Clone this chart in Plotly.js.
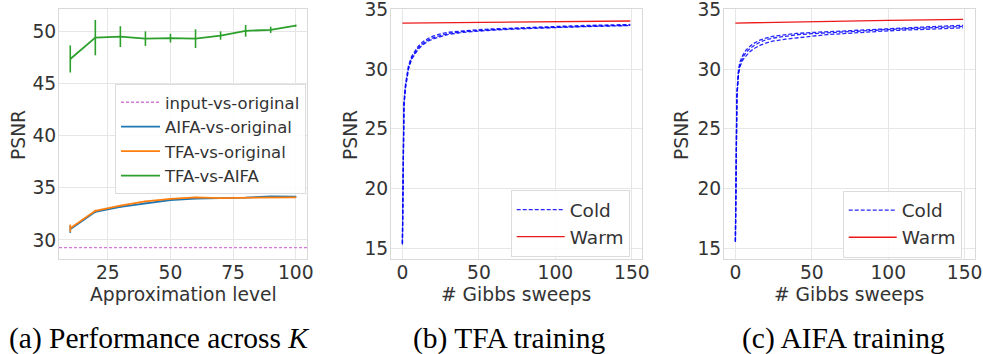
<!DOCTYPE html>
<html>
<head>
<meta charset="utf-8">
<script src="https://cdn.plot.ly/plotly-3.0.1.min.js"></script>
<style>
  html, body { margin: 0; padding: 0; background: #fff; }
  #chart { width: 983px; height: 354px; }
</style>
</head>
<body>
<div id="chart"></div>
<script>
// ---------- Panel (a): performance across K ----------
const approxLevels = [10, 20, 30, 40, 50, 60, 70, 80, 90, 100];
const tfaVsAifa    = [47.4, 49.45, 49.55, 49.35, 49.4, 49.35, 49.65, 50.1, 50.2, 50.6];
const tfaVsAifaErr = [1.3, 1.7, 1.0, 0.7, 0.42, 0.9, 0.4, 0.56, 0.3, 0.1];
const aifaVsOrig    = [31.03, 32.71, 33.19, 33.55, 33.84, 33.97, 34.0, 34.06, 34.19, 34.16];
const aifaVsOrigErr = [0.35, 0.1, 0.08, 0.06, 0.05, 0.05, 0.04, 0.04, 0.04, 0.04];
const tfaVsOrig     = [31.13, 32.8, 33.29, 33.71, 33.94, 34.1, 34.03, 34.06, 34.1, 34.1];
const tfaVsOrigErr  = [0.35, 0.1, 0.08, 0.06, 0.05, 0.05, 0.04, 0.04, 0.04, 0.04];
const inputVsOrig   = 29.26;

// ---------- Panel (b): TFA training ----------
const sweepsB = [0, 1, 2, 3, 4, 6, 8, 10, 13, 17, 20, 25, 30, 40, 50, 60, 70, 80, 90, 100, 110, 120, 130, 140, 149];
const coldB1 = [15.3, 27.0, 28.5, 29.5, 30.1, 30.9, 31.35, 31.7, 32.1, 32.45, 32.62, 32.83, 32.98, 33.15, 33.24, 33.31, 33.37, 33.42, 33.47, 33.51, 33.55, 33.58, 33.61, 33.64, 33.66];
const coldB2 = [15.4, 27.2, 28.7, 29.7, 30.3, 31.05, 31.5, 31.85, 32.25, 32.58, 32.75, 32.95, 33.08, 33.22, 33.3, 33.37, 33.43, 33.48, 33.53, 33.57, 33.61, 33.65, 33.68, 33.71, 33.73];
const coldB3 = [15.35, 26.8, 28.4, 29.4, 30.0, 30.8, 31.25, 31.6, 32.0, 32.35, 32.52, 32.74, 32.9, 33.08, 33.19, 33.27, 33.33, 33.39, 33.44, 33.48, 33.52, 33.56, 33.59, 33.62, 33.64];
const warmSweepsB = [0, 25, 50, 75, 100, 125, 149];
const warmB = [33.85, 33.87, 33.9, 33.93, 33.96, 33.99, 34.02];

// ---------- Panel (c): AIFA training ----------
const sweepsC = [0, 1, 2, 3, 5, 7, 9, 12, 16, 20, 25, 33, 40, 50, 60, 70, 80, 90, 100, 110, 120, 130, 140, 149];
const coldC1 = [15.5, 28.0, 29.9, 30.6, 31.2, 31.6, 31.85, 32.15, 32.42, 32.6, 32.75, 32.9, 32.98, 33.06, 33.13, 33.19, 33.25, 33.31, 33.38, 33.44, 33.5, 33.56, 33.62, 33.66];
const coldC2 = [15.55, 27.8, 29.7, 30.4, 31.0, 31.4, 31.65, 31.95, 32.25, 32.45, 32.6, 32.77, 32.87, 32.96, 33.04, 33.11, 33.17, 33.24, 33.31, 33.37, 33.43, 33.48, 33.53, 33.57];
const coldC3 = [15.6, 27.6, 29.5, 30.2, 30.8, 31.15, 31.4, 31.7, 31.98, 32.18, 32.35, 32.5, 32.62, 32.75, 32.88, 32.97, 33.05, 33.13, 33.2, 33.26, 33.31, 33.36, 33.41, 33.45];
const warmSweepsC = [0, 25, 50, 75, 100, 125, 149];
const warmC = [33.85, 33.92, 33.98, 34.03, 34.08, 34.12, 34.16];

// ---------- tick labels, titles & captions ----------
const ticksAx = [25, 50, 75, 100];
const ticksAy = [30, 35, 40, 45, 50];
const ticksSweeps = [0, 50, 100, 150];
const ticksPsnr = [15, 20, 25, 30, 35];
const xTitles = ['Approximation level', '# Gibbs sweeps', '# Gibbs sweeps'];
const yTitle = 'PSNR';
const captions = ['(a) Performance across <i>K</i>', '(b) TFA training', '(c) AIFA training'];

// ---------- styles ----------
const TXT = '#333333';
const GRID = '#e6e6e6';
const FRAME = '#d9d9d9';
const FONT = 'DejaVu Sans, sans-serif';
const FS = 18.7;
const C_BLUE = '#1f77b4', C_ORANGE = '#ff7f0e', C_GREEN = '#2ca02c', C_MAG = '#d27ad6';
const C_COLD = 'rgba(0,0,255,0.85)', C_WARM = 'rgba(235,0,0,0.9)';

function errY(arr, color) {
  return {type: 'data', array: arr, visible: true, color: color, thickness: 1.6, width: 0};
}

const traces = [
  {x: [null], y: [null], mode: 'lines', name: 'input-vs-original',
   line: {color: C_MAG, width: 1.3, dash: '3px,2px'}, xaxis: 'x', yaxis: 'y', legend: 'legend'},
  {x: approxLevels, y: aifaVsOrig, error_y: errY(aifaVsOrigErr, C_BLUE), mode: 'lines', name: 'AIFA-vs-original',
   line: {color: C_BLUE, width: 1.8}, xaxis: 'x', yaxis: 'y', legend: 'legend'},
  {x: approxLevels, y: tfaVsOrig, error_y: errY(tfaVsOrigErr, C_ORANGE), mode: 'lines', name: 'TFA-vs-original',
   line: {color: C_ORANGE, width: 1.8}, xaxis: 'x', yaxis: 'y', legend: 'legend'},
  {x: approxLevels, y: tfaVsAifa, error_y: errY(tfaVsAifaErr, C_GREEN), mode: 'lines', name: 'TFA-vs-AIFA',
   line: {color: C_GREEN, width: 1.8}, xaxis: 'x', yaxis: 'y', legend: 'legend'},

  {x: sweepsB, y: coldB1, mode: 'lines', name: 'Cold', legendgroup: 'coldB',
   line: {color: C_COLD, width: 1.3, dash: '4px,2px'}, xaxis: 'x2', yaxis: 'y2', legend: 'legend2'},
  {x: sweepsB, y: coldB2, mode: 'lines', name: 'Cold', legendgroup: 'coldB', showlegend: false,
   line: {color: C_COLD, width: 1.3, dash: '4px,2px'}, xaxis: 'x2', yaxis: 'y2', legend: 'legend2'},
  {x: sweepsB, y: coldB3, mode: 'lines', name: 'Cold', legendgroup: 'coldB', showlegend: false,
   line: {color: C_COLD, width: 1.3, dash: '4px,2px'}, xaxis: 'x2', yaxis: 'y2', legend: 'legend2'},
  {x: warmSweepsB, y: warmB, mode: 'lines', name: 'Warm',
   line: {color: C_WARM, width: 1.4}, xaxis: 'x2', yaxis: 'y2', legend: 'legend2'},

  {x: sweepsC, y: coldC1, mode: 'lines', name: 'Cold', legendgroup: 'coldC',
   line: {color: C_COLD, width: 1.3, dash: '4px,2px'}, xaxis: 'x3', yaxis: 'y3', legend: 'legend3'},
  {x: sweepsC, y: coldC2, mode: 'lines', name: 'Cold', legendgroup: 'coldC', showlegend: false,
   line: {color: C_COLD, width: 1.3, dash: '4px,2px'}, xaxis: 'x3', yaxis: 'y3', legend: 'legend3'},
  {x: sweepsC, y: coldC3, mode: 'lines', name: 'Cold', legendgroup: 'coldC', showlegend: false,
   line: {color: C_COLD, width: 1.3, dash: '4px,2px'}, xaxis: 'x3', yaxis: 'y3', legend: 'legend3'},
  {x: warmSweepsC, y: warmC, mode: 'lines', name: 'Warm',
   line: {color: C_WARM, width: 1.4}, xaxis: 'x3', yaxis: 'y3', legend: 'legend3'}
];

const W = 983, H = 354;
const yDom = [1 - 259 / H, 1 - 9 / H];

function baseAxis(dom, range, ticks, anchor, standoff) {
  return {
    domain: dom, range: range, tickvals: ticks, ticktext: ticks.map(String), anchor: anchor,
    showgrid: true, gridcolor: GRID, gridwidth: 1, zeroline: false,
    showline: true, mirror: true, linecolor: FRAME, linewidth: 1,
    ticks: 'outside', ticklen: 4, tickcolor: 'rgba(0,0,0,0)',
    ticklabelstandoff: standoff, ticklabeloverflow: 'allow',
    tickfont: {family: FONT, size: FS, color: TXT},
    automargin: false, fixedrange: true
  };
}
const xAxis = (dom, range, ticks, anchor) => baseAxis(dom, range, ticks, anchor, -7);
const yAxis = (range, ticks, anchor) => baseAxis(yDom, range, ticks, anchor, -6);

function legendBox(xpx, ypx, size, itemw) {
  return {
    x: xpx / W, y: 1 - ypx / H, xanchor: 'left', yanchor: 'top',
    bgcolor: 'rgba(255,255,255,0.85)', bordercolor: '#dcdcdc', borderwidth: 1,
    font: {family: FONT, size: size, color: TXT}, tracegroupgap: 0, itemwidth: itemw
  };
}

const xTitleCenters = [183, 516, 849];
const yTitleCenters = [18, 350, 681];
const captionCenters = [159, 509, 843];

const annotations = [];
xTitles.forEach((t, i) => annotations.push({
  text: t, xref: 'paper', yref: 'paper', x: xTitleCenters[i] / W, y: 1 - 294 / H,
  xanchor: 'center', yanchor: 'middle', showarrow: false,
  font: {family: FONT, size: FS, color: TXT}
}));
yTitleCenters.forEach(cx => annotations.push({
  text: yTitle, xref: 'paper', yref: 'paper', x: cx / W, y: 1 - 135 / H,
  xanchor: 'center', yanchor: 'middle', showarrow: false, textangle: -90,
  font: {family: FONT, size: FS, color: TXT}
}));
captions.forEach((t, i) => annotations.push({
  text: t, xref: 'paper', yref: 'paper', x: captionCenters[i] / W, y: 1 - 338 / H,
  xanchor: 'center', yanchor: 'middle', showarrow: false,
  font: {family: 'Liberation Serif, serif', size: 29.5, color: '#000'}
}));

const layout = {
  width: W, height: H,
  margin: {l: 0, r: 0, t: 0, b: 0},
  paper_bgcolor: '#ffffff', plot_bgcolor: '#ffffff',
  showlegend: true,
  xaxis:  xAxis([59 / W, 307 / W], [5.5, 104.5], ticksAx, 'y'),
  yaxis:  yAxis([28.17, 52.2], ticksAy, 'x'),
  xaxis2: xAxis([391 / W, 641.7 / W], [-7.45, 156.45], ticksSweeps, 'y2'),
  yaxis2: yAxis([14.08, 35.03], ticksPsnr, 'x2'),
  xaxis3: xAxis([724 / W, 974.5 / W], [-7.45, 156.45], ticksSweeps, 'y3'),
  yaxis3: yAxis([14.08, 35.03], ticksPsnr, 'x3'),
  legend:  legendBox(115, 84, 16.5, 39),
  legend2: legendBox(510.7, 190, 18.5, 48),
  legend3: legendBox(842.7, 190.7, 18.5, 48),
  shapes: [{
    type: 'line', xref: 'x domain', yref: 'y', x0: 0, x1: 1, y0: inputVsOrig, y1: inputVsOrig,
    line: {color: C_MAG, width: 1.3, dash: '3px,2px'}, layer: 'above'
  }],
  annotations: annotations
};

Plotly.newPlot('chart', traces, layout, {displayModeBar: false, staticPlot: true});
</script>
</body>
</html>
